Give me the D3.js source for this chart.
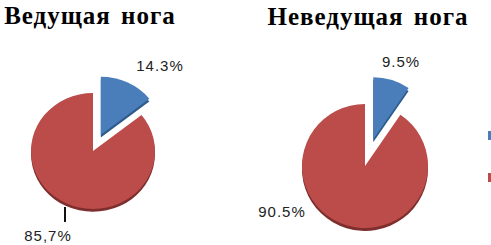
<!DOCTYPE html>
<html>
<head>
<meta charset="utf-8">
<script src="https://cdn.jsdelivr.net/npm/d3@7"></script>
<style>
  body { margin: 0; background: #fff; }
  svg { display: block; }
</style>
</head>
<body>
<svg id="chart" width="491" height="245"></svg>
<script>
const titles = ["Ведущая нога", "Неведущая нога"]
const categories = ["Да", "Нет"]
const leftValues = [14.3, 85.7]
const rightValues = [9.5, 90.5]
const leftLabels = ["14.3%", "85,7%"]
const rightLabels = ["9.5%", "90.5%"]
const colors = ["#4a7ebb", "#bb4c49"]
const shadowColors = ["#2f5a8c", "#7e2f2d"]

const svg = d3.select("#chart")

// layout per pie (center, radii, explode, label anchors)
const pies = [
  {title: titles[0], values: leftValues, labels: leftLabels,
   cx: 93, cy: 151, rx: 62, ry: 58, explode: 18, titleX: 90, titleY: 24,
   labelPos: [[160, 71], [48, 241]], leader: true},
  {title: titles[1], values: rightValues, labels: rightLabels,
   cx: 365, cy: 166, rx: 63, ry: 62, explode: 28, titleX: 368, titleY: 25,
   labelPos: [[401, 67], [282, 217]], leader: false}
]

const pie = d3.pie().sort(null).value(d => d)

pies.forEach(function(p){
  let arcs = pie(p.values)
  let arc = d3.arc().innerRadius(0).outerRadius(p.rx)
  let g = svg.append("g")
      .attr("transform", "translate(" + p.cx + "," + p.cy + ")")

  arcs.forEach(function(a, i){
    let dx = 0, dy = 0
    if (i === 0) {//first slice pulled out
      let mid = (a.startAngle + a.endAngle) / 2
      dx = Math.sin(mid) * p.explode
      dy = -Math.cos(mid) * p.explode
    }
    let sg = g.append("g")
        .attr("transform", "translate(" + dx + "," + dy + ") scale(1," + (p.ry / p.rx) + ")")
    //dark bottom rim for the 3d look
    sg.append("path")
        .attr("d", arc(a))
        .attr("transform", "translate(0,3)")
        .attr("fill", shadowColors[i])
    sg.append("path")
        .attr("d", arc(a))
        .attr("fill", colors[i])
  })

  svg.append("text")
      .attr("x", p.titleX)
      .attr("y", p.titleY)
      .attr("text-anchor", "middle")
      .style("font-family", "'Liberation Serif', 'Times New Roman', serif")
      .style("font-weight", "bold")
      .style("font-size", "25px")
      .style("letter-spacing", "1px")
      .style("word-spacing", "3px")
      .text(p.title)

  p.labels.forEach(function(l, i){
    svg.append("text")
        .attr("x", p.labelPos[i][0])
        .attr("y", p.labelPos[i][1])
        .attr("text-anchor", "middle")
        .style("font-family", "'Liberation Sans', Arial, sans-serif")
        .style("font-size", "15px")
        .style("letter-spacing", "1px")
        .style("fill", "#222")
        .text(l)
  })

  if (p.leader) {
    svg.append("line")
        .attr("x1", 65).attr("y1", 207)
        .attr("x2", 65).attr("y2", 222)
        .attr("stroke", "#111")
        .attr("stroke-width", 2)
  }
})

//legend, mostly cut off on the right edge
svg.selectAll(".legend")
    .data(categories)
    .enter().append("rect")
    .attr("class", "legend")
    .attr("x", 488)
    .attr("y", (d, i) => 131 + i * 42)
    .attr("width", 8)
    .attr("height", 9)
    .attr("fill", (d, i) => colors[i])
</script>
</body>
</html>
